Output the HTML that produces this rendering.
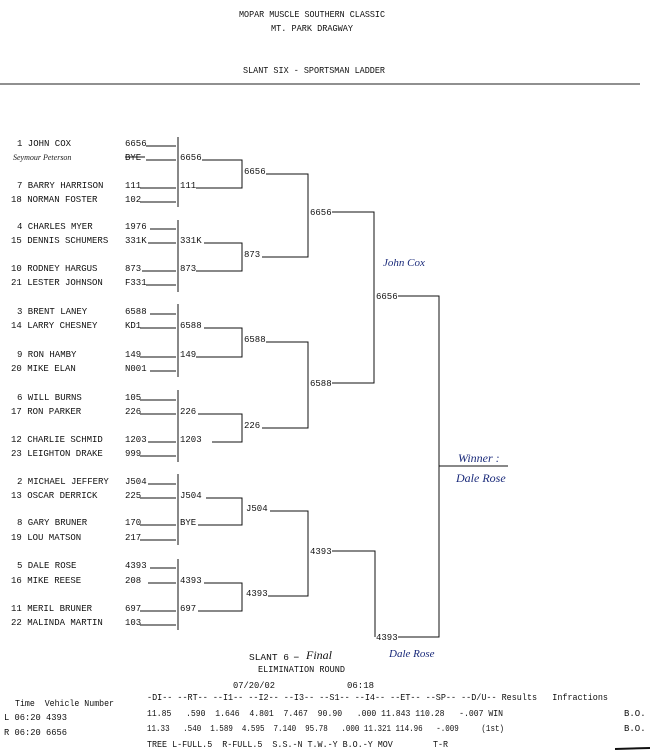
<!DOCTYPE html>
<html><head><meta charset="utf-8"><style>
html,body{margin:0;padding:0;background:#fff}
svg{display:block}
text{font-family:"Liberation Mono",monospace;font-size:9px;fill:#111;white-space:pre}
.h{font-family:"Liberation Serif",serif;font-style:italic;fill:#1a2a7a;font-size:12px}
</style></head><body>
<svg width="650" height="755" viewBox="0 0 650 755" xmlns="http://www.w3.org/2000/svg" xml:space="preserve">
<g text-anchor="middle">
<text x="312" y="17" textLength="146" lengthAdjust="spacingAndGlyphs">MOPAR MUSCLE SOUTHERN CLASSIC</text>
<text x="312" y="31" textLength="82" lengthAdjust="spacingAndGlyphs">MT. PARK DRAGWAY</text>
<text x="314" y="73" textLength="142" lengthAdjust="spacingAndGlyphs">SLANT SIX - SPORTSMAN LADDER</text>
</g>
<line x1="0" y1="84" x2="640" y2="84" stroke="#222" stroke-width="1"/>

<g stroke="#111" stroke-width="1" fill="none">
<path d="M146 146H176M146 160H176M140 188H176M140 202H176M150 229H176M148 243H176M142 271H176M146 285H176M150 314H176M140 328H176M140 357H176M150 371H176M140 400H176M140 414H176M148 442H176M140 456H176M148 484H176M140 498H176M140 525H176M140 540H176M150 568H176M148 583H176M140 611H176M140 625H176"/>
<path d="M178 137V207M178 220V292M178 304V377M178 390V462M178 474V545M178 559V630"/>
<path d="M202 160H242V188H196M204 243H242V271H196M204 328H242V357H196M198 414H242V442H212M206 498H242V525H198M204 583H242V611H198"/>
<path d="M266 174H308V257H262M266 342H308V428H262M270 511H308V596H268"/>
<path d="M332 212H374V383H332M332 551H375V637"/>
<path d="M398 296H439V637H398M439 466H508"/>
</g>

<g>
<text x="17" y="146">1 JOHN COX</text>
<text x="17" y="188">7 BARRY HARRISON</text>
<text x="11" y="202">18 NORMAN FOSTER</text>
<text x="17" y="229">4 CHARLES MYER</text>
<text x="11" y="243">15 DENNIS SCHUMERS</text>
<text x="11" y="271">10 RODNEY HARGUS</text>
<text x="11" y="285">21 LESTER JOHNSON</text>
<text x="17" y="314">3 BRENT LANEY</text>
<text x="11" y="328">14 LARRY CHESNEY</text>
<text x="17" y="357">9 RON HAMBY</text>
<text x="11" y="371">20 MIKE ELAN</text>
<text x="17" y="400">6 WILL BURNS</text>
<text x="11" y="414">17 RON PARKER</text>
<text x="11" y="442">12 CHARLIE SCHMID</text>
<text x="11" y="456">23 LEIGHTON DRAKE</text>
<text x="17" y="484">2 MICHAEL JEFFERY</text>
<text x="11" y="498">13 OSCAR DERRICK</text>
<text x="17" y="525">8 GARY BRUNER</text>
<text x="11" y="540">19 LOU MATSON</text>
<text x="17" y="568">5 DALE ROSE</text>
<text x="11" y="583">16 MIKE REESE</text>
<text x="11" y="611">11 MERIL BRUNER</text>
<text x="11" y="625">22 MALINDA MARTIN</text>
</g>
<text x="13" y="160" class="h" style="font-size:8px;fill:#222">Seymour Peterson</text>

<g>
<text x="125" y="146">6656</text>
<text x="125" y="160">BYE</text>
<line x1="125" y1="157" x2="145" y2="157" stroke="#111"/>
<text x="125" y="188">111</text><text x="125" y="202">102</text>
<text x="125" y="229">1976</text><text x="125" y="243">331K</text>
<text x="125" y="271">873</text><text x="125" y="285">F331</text>
<text x="125" y="314">6588</text><text x="125" y="328">KD1</text>
<text x="125" y="357">149</text><text x="125" y="371">N001</text>
<text x="125" y="400">105</text><text x="125" y="414">226</text>
<text x="125" y="442">1203</text><text x="125" y="456">999</text>
<text x="125" y="484">J504</text><text x="125" y="498">225</text>
<text x="125" y="525">170</text><text x="125" y="540">217</text>
<text x="125" y="568">4393</text><text x="125" y="583">208</text>
<text x="125" y="611">697</text><text x="125" y="625">103</text>

<text x="180" y="160">6656</text><text x="180" y="188">111</text>
<text x="180" y="243">331K</text><text x="180" y="271">873</text>
<text x="180" y="328">6588</text><text x="180" y="357">149</text>
<text x="180" y="414">226</text><text x="180" y="442">1203</text>
<text x="180" y="498">J504</text><text x="180" y="525">BYE</text>
<text x="180" y="583">4393</text><text x="180" y="611">697</text>

<text x="244" y="174">6656</text><text x="244" y="257">873</text>
<text x="244" y="342">6588</text><text x="244" y="428">226</text>
<text x="246" y="511">J504</text><text x="246" y="596">4393</text>

<text x="310" y="215">6656</text><text x="310" y="386">6588</text>
<text x="310" y="554">4393</text>
<text x="376" y="299">6656</text><text x="376" y="640">4393</text>
</g>

<text x="383" y="266" class="h" style="font-size:11px">John Cox</text>
<text x="458" y="462" class="h">Winner :</text>
<text x="456" y="482" class="h">Dale Rose</text>
<text x="389" y="657" class="h" style="font-size:11px">Dale Rose</text>

<text x="249" y="660" textLength="40" lengthAdjust="spacingAndGlyphs">SLANT 6</text>
<text x="293" y="660" style="font-size:11px">–</text>
<text x="306" y="659" class="h" style="fill:#111;font-size:12px">Final</text>
<text x="258" y="672" textLength="87" lengthAdjust="spacingAndGlyphs">ELIMINATION ROUND</text>
<text x="233" y="688" textLength="42" lengthAdjust="spacingAndGlyphs">07/20/02</text>
<text x="347" y="688" textLength="27" lengthAdjust="spacingAndGlyphs">06:18</text>
<g style="font-size:8.5px">
<text x="15" y="706" textLength="99" lengthAdjust="spacingAndGlyphs">Time  Vehicle Number</text>
<text x="4" y="720" textLength="63" lengthAdjust="spacingAndGlyphs">L 06:20 4393</text>
<text x="4" y="735" textLength="63" lengthAdjust="spacingAndGlyphs">R 06:20 6656</text>
<text x="147" y="700" textLength="461" lengthAdjust="spacingAndGlyphs">-DI-- --RT-- --I1-- --I2-- --I3-- --S1-- --I4-- --ET-- --SP-- --D/U-- Results   Infractions</text>
<text x="147" y="716" textLength="356" lengthAdjust="spacingAndGlyphs">11.85   .590  1.646  4.801  7.467  90.90   .000 11.843 110.28   -.007 WIN</text>
<text x="147" y="731" textLength="357" lengthAdjust="spacingAndGlyphs">11.33   .540  1.589  4.595  7.140  95.78   .000 11.321 114.96   -.009     (1st)</text>
<text x="147" y="747" textLength="301" lengthAdjust="spacingAndGlyphs">TREE L-FULL.5  R-FULL.5  S.S.-N T.W.-Y B.O.-Y MOV        T-R</text>
<text x="624" y="716">B.O.</text>
<text x="624" y="731">B.O.</text>
</g>
<line x1="615" y1="749" x2="650" y2="748" stroke="#111" stroke-width="2"/>
</svg>
</body></html>
